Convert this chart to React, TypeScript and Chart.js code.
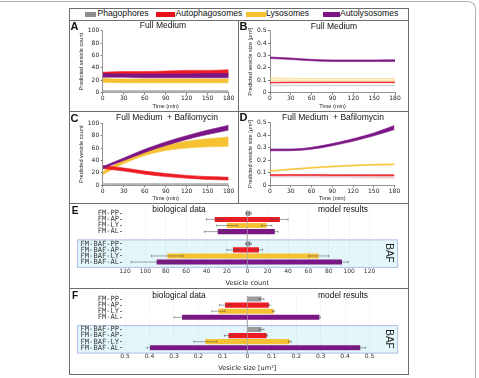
import React, { useEffect, useRef } from 'react';
import { Chart, registerables } from 'chart.js';

Chart.register(...registerables);

// ---------- time course data (band lower / upper edges) ----------
const TIME = [0, 30, 60, 90, 120, 150, 180];

// A: vesicle count, full medium
const A_AL_LO = [25, 25, 24, 24, 24, 24, 24];
const A_AL_HI = [31, 30, 30, 30, 30, 31, 31];
const A_AP_LO = [27, 27, 27, 27, 27, 27, 27];
const A_AP_HI = [33, 34, 34, 35, 36, 36, 37];
const A_LY_LO = [17, 16, 16, 16, 16, 16, 16];
const A_LY_HI = [23, 22, 22, 22, 22, 22, 22];
const A_PP_LO = [0.5, 0.5, 0.5, 0.5, 0.5, 0.5, 0.5];
const A_PP_HI = [3.5, 3.5, 3.5, 3.5, 3.5, 3.5, 3.5];

// B: vesicle size, full medium
const B_AL_LO = [0.276, 0.268, 0.257, 0.252, 0.252, 0.252, 0.252];
const B_AL_HI = [0.288, 0.28, 0.269, 0.264, 0.264, 0.264, 0.265];
const B_LY_LO = [0.098, 0.095, 0.094, 0.094, 0.094, 0.094, 0.094];
const B_LY_HI = [0.12, 0.116, 0.115, 0.115, 0.115, 0.115, 0.115];
const B_AP_LO = [0.078, 0.08, 0.08, 0.081, 0.081, 0.081, 0.081];
const B_AP_HI = [0.084, 0.086, 0.086, 0.087, 0.087, 0.087, 0.087];
const B_PP_LO = [0.056, 0.056, 0.056, 0.056, 0.056, 0.056, 0.056];
const B_PP_HI = [0.061, 0.061, 0.061, 0.061, 0.061, 0.061, 0.061];

// C: vesicle count, full medium + bafilomycin
const C_AL_LO = [27, 40, 53, 64, 74, 82, 89];
const C_AL_HI = [30, 44, 58, 70, 80, 89, 97];
const C_LY_LO = [17, 35, 48, 56, 60, 62, 63];
const C_LY_HI = [22, 41, 56, 65, 71, 75, 78];
const C_AP_LO = [27, 23, 18, 14, 11.5, 9.5, 8.5];
const C_AP_HI = [32, 28, 23, 19, 16, 14, 13];
const C_PP_LO = [0.5, 0.5, 0.5, 0.5, 0.5, 0.5, 0.5];
const C_PP_HI = [3, 3, 3, 3, 3, 3, 3];

// D: vesicle size, full medium + bafilomycin
const D_AL_LO = [0.275, 0.276, 0.288, 0.316, 0.352, 0.395, 0.445];
const D_AL_HI = [0.29, 0.29, 0.303, 0.333, 0.372, 0.418, 0.478];
const D_LY_LO = [0.11, 0.124, 0.136, 0.146, 0.154, 0.16, 0.164];
const D_LY_HI = [0.117, 0.132, 0.144, 0.154, 0.162, 0.168, 0.172];
const D_AP_LO = [0.078, 0.078, 0.078, 0.077, 0.077, 0.076, 0.076];
const D_AP_HI = [0.086, 0.086, 0.086, 0.085, 0.085, 0.085, 0.085];
const D_PP_LO = [0.064, 0.064, 0.063, 0.062, 0.06, 0.058, 0.056];
const D_PP_HI = [0.072, 0.072, 0.073, 0.074, 0.075, 0.076, 0.077];

// ---------- comparison data (biological vs model) ----------
const ROWS = ['FM-PP', 'FM-AP', 'FM-LY', 'FM-AL', '', 'FM-BAF-PP', 'FM-BAF-AP', 'FM-BAF-LY', 'FM-BAF-AL'];

const E_BIO = [1.2, 32, 20, 29, null, 1.2, 14, 78.5, 89];
const E_BIO_ERR = [0.5, 8, 10, 13, null, 0.5, 6, 15.5, 25];
const E_MODEL = [3, 32, 19, 27, null, 3, 11.5, 70, 93];
const E_MODEL_ERR = [1, 8, 5, 3, null, 1, 3.5, 10, 6];
const E_TICKS = [-120, -100, -80, -60, -40, -20, 0, 20, 40, 60, 80, 100, 120];

const F_BIO = [0, 0.091, 0.118, 0.267, null, 0, 0.077, 0.172, 0.398];
const F_BIO_ERR = [0, 0.023, 0.027, 0.033, null, 0, 0.016, 0.047, 0.012];
const F_MODEL = [0.058, 0.088, 0.107, 0.295, null, 0.058, 0.079, 0.174, 0.462];
const F_MODEL_ERR = [0.01, 0.005, 0.004, 0.004, null, 0.01, 0.004, 0.006, 0.022];
const F_TICKS = [-0.5, -0.4, -0.3, -0.2, -0.1, 0, 0.1, 0.2, 0.3, 0.4, 0.5];

// ---------- colours ----------
const GREY = '#9b9b9b';
const RED = '#ec1c24';
const YELLOW = '#f6c233';
const PURPLE = '#7c1686';
const ROW_COLORS = [GREY, RED, YELLOW, PURPLE, GREY, GREY, RED, YELLOW, PURPLE];
const LEGEND = [
  { label: 'Phagophores', color: '#8e8e8e' },
  { label: 'Autophagosomes', color: '#e8101a' },
  { label: 'Lysosomes', color: '#f6c233' },
  { label: 'Autolysosomes', color: '#7c1686' },
];

const TICK_FONT = { family: 'DejaVu Sans', size: 6 };
const AXIS_COLOR = '#777';

type Area = { left: number; top: number; right: number; bottom: number };
type Band = { lo: number[]; hi: number[]; line: string; fill: string; width?: number };

function linePanel(bands: Band[], yMax: number, yStep: number, yTitle: string, sizeFmt: boolean,
  w: number, h: number, a: Area): any {
  const datasets: any[] = [];
  bands.forEach((b) => {
    datasets.push({
      data: TIME.map((t, i) => ({ x: t, y: b.hi[i] })),
      borderColor: b.line, backgroundColor: b.fill, borderWidth: b.width ?? 0.6,
      pointRadius: 0, fill: '+1', cubicInterpolationMode: 'monotone',
    });
    datasets.push({
      data: TIME.map((t, i) => ({ x: t, y: b.lo[i] })),
      borderColor: b.line, borderWidth: b.width ?? 0.6,
      pointRadius: 0, fill: false, cubicInterpolationMode: 'monotone',
    });
  });
  return {
    type: 'line',
    data: { datasets },
    options: {
      responsive: false, animation: false,
      layout: { padding: { left: 0, top: a.top, right: w - a.right, bottom: 0 } },
      plugins: { legend: { display: false }, tooltip: { enabled: false } },
      scales: {
        x: {
          type: 'linear', min: 0, max: 180,
          afterBuildTicks: (s: any) => { s.ticks = TIME.map((v) => ({ value: v })); },
          afterFit: (s: any) => { s.height = h - a.bottom; },
          ticks: { font: TICK_FONT, color: '#222', padding: 0.5, maxRotation: 0 },
          grid: { display: true, drawOnChartArea: false, tickLength: 2, color: AXIS_COLOR },
          border: { color: AXIS_COLOR, width: 0.8 },
          title: { display: true, text: 'Time (min)', font: { family: 'Liberation Sans', size: 5.6 }, color: '#222', padding: { top: 0, bottom: 0.3 } },
        },
        y: {
          min: 0, max: yMax,
          afterBuildTicks: (s: any) => {
            const t: any[] = [];
            for (let v = 0; v <= yMax + 1e-9; v += yStep) t.push({ value: +v.toFixed(3) });
            s.ticks = t;
          },
          afterFit: (s: any) => { s.width = a.left; },
          ticks: {
            font: TICK_FONT, color: '#222', padding: 1.5,
            callback: (v: number) => (sizeFmt ? (v === 0 ? '0' : v.toFixed(1)) : String(v)),
          },
          grid: { display: true, drawOnChartArea: false, tickLength: 2, color: AXIS_COLOR },
          border: { color: AXIS_COLOR, width: 0.8 },
          title: { display: true, text: yTitle, font: { family: 'Liberation Sans', size: 5.6 }, color: '#222', padding: { top: 8.5, bottom: 0 } },
        },
      },
    },
  };
}

function barPanel(bio: (number | null)[], bioErr: (number | null)[], model: (number | null)[], modelErr: (number | null)[],
  ticks: number[], fmt: (v: number) => string, xTitle: string, titlePad: number,
  w: number, h: number, a: Area): any {
  const errPlugin = {
    id: 'errs',
    beforeDraw(chart: any) {
      // shaded block around the bafilomycin rows
      const { ctx, chartArea } = chart;
      const ys = chart.scales.y;
      const top = ys.getPixelForValue(5) - 4.4;
      const bottom = ys.getPixelForValue(8) + 5.8;
      const left = chartArea.left - 45;
      const right = chartArea.right + 25.5;
      ctx.save();
      ctx.fillStyle = '#e3f7fb';
      ctx.strokeStyle = '#b4bde6';
      ctx.lineWidth = 1;
      ctx.fillRect(left, top, right - left, bottom - top);
      ctx.strokeRect(left + 0.5, top + 0.5, right - left - 1, bottom - top - 1);
      ctx.restore();
    },
    beforeDatasetsDraw(chart: any) {
      const { ctx, chartArea } = chart;
      const x0 = chart.scales.x.getPixelForValue(0);
      ctx.save();
      ctx.strokeStyle = '#8a8a8a';
      ctx.lineWidth = 0.8;
      ctx.beginPath();
      ctx.moveTo(x0, chartArea.top);
      ctx.lineTo(x0, chartArea.bottom + 3);
      ctx.stroke();
      ctx.restore();
    },
    afterDatasetsDraw(chart: any) {
      const { ctx } = chart;
      const xs = chart.scales.x;
      const sets = [
        { vals: bio, errs: bioErr, sign: -1 },
        { vals: model, errs: modelErr, sign: 1 },
      ];
      ctx.save();
      ctx.strokeStyle = 'rgba(70,70,70,0.7)';
      ctx.lineWidth = 0.7;
      sets.forEach((s, di) => {
        const meta = chart.getDatasetMeta(di);
        meta.data.forEach((bar: any, i: number) => {
          const v = s.vals[i];
          const e = s.errs[i];
          if (v == null || e == null || e === 0) return;
          const c = s.sign * v;
          const x1 = xs.getPixelForValue(c - e);
          const x2 = xs.getPixelForValue(c + e);
          const y = bar.y;
          ctx.beginPath();
          ctx.moveTo(x1, y); ctx.lineTo(x2, y);
          ctx.moveTo(x1, y - 1.2); ctx.lineTo(x1, y + 1.2);
          ctx.moveTo(x2, y - 1.2); ctx.lineTo(x2, y + 1.2);
          ctx.stroke();
        });
      });
      ctx.restore();
    },
  };
  const lim = ticks[ticks.length - 1] * 1.025;
  return {
    type: 'bar',
    data: {
      labels: ROWS,
      datasets: [
        {
          label: 'biological data', data: bio.map((v) => (v == null ? null : -v)),
          backgroundColor: ROW_COLORS, grouped: false, barPercentage: 0.84, categoryPercentage: 1,
        },
        {
          label: 'model results', data: model,
          backgroundColor: ROW_COLORS, grouped: false, barPercentage: 0.84, categoryPercentage: 1,
        },
      ],
    },
    plugins: [errPlugin],
    options: {
      responsive: false, animation: false, indexAxis: 'y',
      layout: { padding: { left: 0, top: a.top, right: w - a.right, bottom: 0 } },
      plugins: { legend: { display: false }, tooltip: { enabled: false } },
      scales: {
        x: {
          type: 'linear', min: -lim, max: lim,
          afterBuildTicks: (s: any) => { s.ticks = ticks.map((v) => ({ value: v })); },
          afterFit: (s: any) => { s.height = h - a.bottom; },
          ticks: { font: TICK_FONT, color: '#333', padding: 2.5, maxRotation: 0, callback: (v: number) => fmt(v) },
          grid: { display: true, drawTicks: false, color: 'rgba(0,0,0,0.16)', lineWidth: 0.6 },
          border: { display: false, dash: [1, 2] },
          title: { display: true, text: xTitle, font: { family: 'DejaVu Sans', size: 6.6 }, color: '#222', padding: { top: 0, bottom: titlePad } },
        },
        y: {
          type: 'category', offset: true,
          afterFit: (s: any) => { s.width = a.left; },
          ticks: { autoSkip: false, font: { family: 'DejaVu Sans Mono', size: 7.1 }, color: '#3a3a3a', padding: 1 },
          grid: {
            display: true, drawOnChartArea: false, offset: false, tickLength: 2,
            tickColor: (c: any) => (c.index === 4 ? 'rgba(0,0,0,0)' : '#777'),
            color: 'rgba(0,0,0,0)',
          },
          border: { display: false },
        },
      },
    },
  };
}

function ChartBox({ left, top, width, height, make }: { left: number; top: number; width: number; height: number; make: () => any }) {
  const ref = useRef<HTMLCanvasElement>(null);
  useEffect(() => {
    const chart = new Chart(ref.current as HTMLCanvasElement, make());
    return () => chart.destroy();
  }, []);
  return (
    <canvas ref={ref} width={width} height={height}
      style={{ position: 'absolute', left, top, width, height }} />
  );
}

function Txt({ x, y, size, children, bold, rotate, family, color }: any) {
  return (
    <div style={{
      position: 'absolute', left: x, top: y, whiteSpace: 'pre',
      transform: `translate(-50%, -50%)${rotate ? ` rotate(${rotate}deg)` : ''}`,
      fontFamily: family || 'Liberation Sans, Arial, sans-serif', fontSize: size,
      fontWeight: bold ? 700 : 400, color: color || '#111', lineHeight: 1,
    }}>{children}</div>
  );
}

const line = (l: number, t: number, w: number, h: number) => (
  <div style={{ position: 'absolute', left: l, top: t, width: w, height: h, background: '#6d6d6d' }} />
);

export default function App() {
  const fmtCount = (v: number) => String(Math.abs(v));
  const fmtSize = (v: number) => (v === 0 ? '0' : Math.abs(v).toFixed(1));
  return (
    <div style={{ position: 'absolute', left: 0, top: 0, width: 479, height: 378, background: '#fff', overflow: 'hidden' }}>
      {/* outer frame */}
      <div style={{
        position: 'absolute', left: -4, top: 1, width: 479, height: 390,
        borderTop: '1px solid #b5b5b5', borderRight: '1px solid #b5b5b5', borderTopRightRadius: 8,
      }} />
      {/* figure box and dividers */}
      <div style={{ position: 'absolute', left: 69, top: 8, width: 338, height: 365, border: '1px solid #6d6d6d' }} />
      {line(69, 20, 339, 1)}
      {line(69, 111, 339, 1)}
      {line(69, 203, 339, 1)}
      {line(69, 288, 339, 1)}
      {line(238, 20, 1, 183)}

      {/* legend */}
      {[
        { x: 85, w: 11, tx: 97.5 },
        { x: 156, w: 19, tx: 175.5 },
        { x: 246, w: 19.5, tx: 266 },
        { x: 323, w: 16.5, tx: 340 },
      ].map((p, i) => (
        <React.Fragment key={i}>
          <div style={{ position: 'absolute', left: p.x, top: 12, width: p.w, height: 4.5, background: LEGEND[i].color }} />
          <div style={{
            position: 'absolute', left: p.tx, top: 9.2, fontFamily: 'Liberation Sans, Arial, sans-serif',
            fontSize: 8.6, lineHeight: 1, color: '#111', whiteSpace: 'nowrap',
          }}>{LEGEND[i].label}</div>
        </React.Fragment>
      ))}

      <ChartBox left={70} top={21} width={167} height={89}
        make={() => linePanel([
          { lo: A_AL_LO, hi: A_AL_HI, line: PURPLE, fill: PURPLE },
          { lo: A_AP_LO, hi: A_AP_HI, line: RED, fill: RED },
          { lo: A_LY_LO, hi: A_LY_HI, line: YELLOW, fill: YELLOW },
          { lo: A_PP_LO, hi: A_PP_HI, line: '#aaa', fill: '#b5b5b5' },
        ], 100, 20, 'Predicted vesicle count', false, 167, 89,
          { left: 32.7, top: 9.7, right: 158.7, bottom: 71.7 })} />
      <ChartBox left={239} top={21} width={168} height={89}
        make={() => linePanel([
          { lo: B_AL_LO, hi: B_AL_HI, line: PURPLE, fill: PURPLE },
          { lo: B_AP_LO, hi: B_AP_HI, line: RED, fill: RED },
          { lo: B_LY_LO, hi: B_LY_HI, line: 'rgba(246,194,51,0.55)', fill: 'rgba(246,210,110,0.3)', width: 0.8 },
          { lo: B_PP_LO, hi: B_PP_HI, line: '#c9c9c9', fill: '#d2d2d2' },
        ], 0.5, 0.1, 'Predicted vesicle size [µm²]', true, 168, 89,
          { left: 31, top: 9.7, right: 156, bottom: 71.7 })} />
      <ChartBox left={70} top={112} width={167} height={90}
        make={() => linePanel([
          { lo: C_AL_LO, hi: C_AL_HI, line: PURPLE, fill: PURPLE },
          { lo: C_AP_LO, hi: C_AP_HI, line: RED, fill: RED },
          { lo: C_LY_LO, hi: C_LY_HI, line: YELLOW, fill: YELLOW },
          { lo: C_PP_LO, hi: C_PP_HI, line: '#aaa', fill: '#b5b5b5' },
        ], 100, 20, 'Predicted vesicle count', false, 167, 90,
          { left: 32.7, top: 11.3, right: 158.7, bottom: 73.3 })} />
      <ChartBox left={239} top={112} width={168} height={90}
        make={() => linePanel([
          { lo: D_AL_LO, hi: D_AL_HI, line: PURPLE, fill: PURPLE },
          { lo: D_LY_LO, hi: D_LY_HI, line: YELLOW, fill: YELLOW },
          { lo: D_AP_LO, hi: D_AP_HI, line: RED, fill: RED },
          { lo: D_PP_LO, hi: D_PP_HI, line: 'rgba(225,190,195,0.8)', fill: 'rgba(230,200,205,0.7)' },
        ], 0.5, 0.1, 'Predicted vesicle size [µm²]', true, 168, 90,
          { left: 31, top: 10.7, right: 155.5, bottom: 73.3 })} />
      <ChartBox left={70} top={204} width={337} height={84}
        make={() => barPanel(E_BIO, E_BIO_ERR, E_MODEL, E_MODEL_ERR, E_TICKS, fmtCount, 'Vesicle count', 1.2, 337, 84,
          { left: 52, top: 6.3, right: 302.6, bottom: 61.1 })} />
      <ChartBox left={70} top={289} width={337} height={85}
        make={() => barPanel(F_BIO, F_BIO_ERR, F_MODEL, F_MODEL_ERR, F_TICKS, fmtSize, 'Vesicle size [um²]', 2, 337, 85,
          { left: 52, top: 7, right: 302.6, bottom: 61.8 })} />

      {/* panel letters and titles */}
      <Txt x={74.5} y={25.8} size={11} bold>A</Txt>
      <Txt x={243.5} y={25.8} size={11} bold>B</Txt>
      <Txt x={74.5} y={117.8} size={11} bold>C</Txt>
      <Txt x={243.5} y={117.3} size={11} bold>D</Txt>
      <Txt x={75} y={211} size={10} bold>E</Txt>
      <Txt x={75} y={296} size={10} bold>F</Txt>
      <Txt x={163} y={24.5} size={8.5}>Full Medium</Txt>
      <Txt x={334} y={26} size={8.5}>Full Medium</Txt>
      <Txt x={167} y={117} size={8.5}>{'Full Medium  + Bafilomycin'}</Txt>
      <Txt x={333} y={117} size={8.5}>{'Full Medium  + Bafilomycin'}</Txt>
      <Txt x={179} y={208.5} size={8.4}>biological data</Txt>
      <Txt x={343} y={208.5} size={8.4}>model results</Txt>
      <Txt x={179} y={294.5} size={8.4}>biological data</Txt>
      <Txt x={343} y={294.5} size={8.4}>model results</Txt>
      <Txt x={388.5} y={252.5} size={10} rotate={90} color="#222">BAF</Txt>
      <Txt x={388.5} y={338.5} size={10} rotate={90} color="#222">BAF</Txt>
    </div>
  );
}
